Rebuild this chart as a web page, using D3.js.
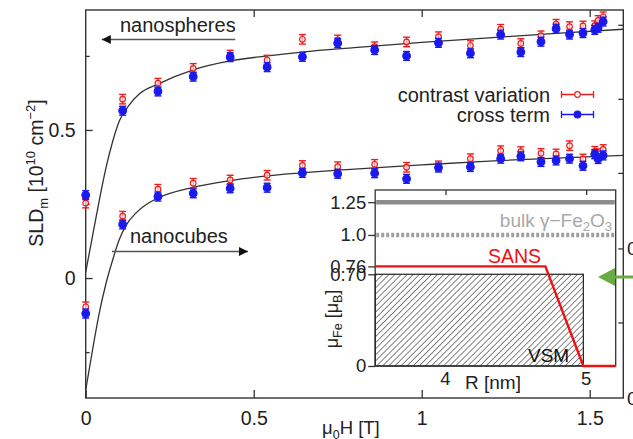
<!DOCTYPE html>
<html>
<head>
<meta charset="utf-8">
<script src="https://cdn.jsdelivr.net/npm/d3@7"></script>
<style>
body{margin:0;background:#fff;}
svg text{font-family:"Liberation Sans",Arial,sans-serif;}
.frame{fill:none;stroke:#333;stroke-width:1.4;}
.axis path{display:none;}
.axis line{stroke:#333;stroke-width:1.3;}
.axis text{fill:#222;}
</style>
</head>
<body>
<svg id="chart" width="633" height="439"></svg>
<script>
// field values (T), shared by all four series
var fields=[0,0.11,0.215,0.32,0.43,0.54,0.645,0.75,0.86,0.955,1.05,1.145,1.235,1.295,1.355,1.40,1.44,1.48,1.515,1.525,1.54];
var sphereContrast=[0.253,0.604,0.658,0.708,0.753,0.736,0.806,0.804,0.781,0.797,0.815,0.785,0.840,0.792,0.818,0.857,0.849,0.851,0.852,0.870,0.882];
var sphereCross=[0.280,0.565,0.630,0.680,0.746,0.712,0.747,0.793,0.770,0.750,0.794,0.759,0.822,0.763,0.798,0.842,0.822,0.827,0.838,0.845,0.866];
var cubeContrast=[-0.097,0.209,0.300,0.320,0.331,0.347,0.380,0.376,0.384,0.374,0.379,0.403,0.430,0.427,0.421,0.419,0.447,0.402,0.428,0.420,0.434];
var cubeCross=[-0.120,0.181,0.275,0.286,0.303,0.305,0.355,0.352,0.354,0.335,0.373,0.375,0.403,0.411,0.392,0.397,0.403,0.379,0.418,0.402,0.414];
var errContrast=0.016;
var errCross=0.015;
// fitted curves
var sphereFitX=[0,0.02,0.04,0.06,0.08,0.10,0.13,0.16,0.215,0.32,0.43,0.54,0.645,0.80,1.0,1.2,1.4,1.6];
var sphereFitY=[0.02,0.14,0.26,0.37,0.46,0.53,0.585,0.622,0.655,0.703,0.733,0.750,0.763,0.778,0.796,0.811,0.826,0.840];
var cubeFitX=[0,0.02,0.04,0.06,0.08,0.10,0.12,0.15,0.18,0.215,0.32,0.43,0.54,0.80,1.0,1.2,1.4,1.6];
var cubeFitY=[-0.378,-0.245,-0.12,-0.02,0.06,0.13,0.178,0.22,0.248,0.27,0.306,0.329,0.345,0.368,0.382,0.395,0.405,0.414];
var xTicks=[0,0.5,1,1.5];
var xTickLabels=["0","0.5","1","1.5"];
var yTicks=[0,0.5];
var yMinorTicks=[-0.25,0.25,0.75];
var rightTicks=[0.855,0.605,0.355,0.10,-0.15];
var legendNames=["contrast variation","cross term"];
// inset
var insetYTicks=[1.25,1.0,0.76,0.70,0];
var insetYLabels=["1.25","1.0","0.76","0.70","0"];
var insetXTicks=[4,5];
var bulkLevels=[1.25,1.0];
var vsmR=[3.5,4.98];
var vsmMu=0.70;
var sansR=[3.5,4.71,4.98,5.21];
var sansMu=[0.76,0.76,0,0];

var svg=d3.select("#chart");
var x=d3.scaleLinear().domain([0,1.6]).range([85.7,623.3]);
var y=d3.scaleLinear().domain([-0.405,0.905]).range([398,10]);

svg.append("rect").attr("class","frame")
   .attr("x",x(0)).attr("y",y(0.905))
   .attr("width",x(1.6)-x(0)).attr("height",y(-0.405)-y(0.905));

// axes
svg.append("g").attr("class","axis")
   .attr("transform","translate(0,"+y(-0.405)+")")
   .call(d3.axisBottom(x).tickValues(xTicks).tickSize(-8).tickPadding(13)
           .tickFormat(function(d,i){return xTickLabels[i];}))
   .selectAll("text").style("font-size","19.5px");
svg.append("g").attr("class","axis")
   .attr("transform","translate(0,"+y(0.905)+")")
   .call(d3.axisTop(x).tickValues(xTicks.slice(1)).tickSize(-7).tickFormat(""));
svg.append("g").attr("class","axis")
   .attr("transform","translate("+x(0)+",0)")
   .call(d3.axisLeft(y).tickValues(yTicks).tickSize(-7).tickPadding(10)
           .tickFormat(d3.format("")))
   .selectAll("text").style("font-size","19.5px");
svg.append("g").attr("class","axis")
   .attr("transform","translate("+x(0)+",0)")
   .call(d3.axisLeft(y).tickValues(yMinorTicks).tickSize(-4).tickFormat(""));
svg.append("g").attr("class","axis")
   .attr("transform","translate("+x(1.6)+",0)")
   .call(d3.axisRight(y).tickValues(rightTicks).tickSize(-5).tickFormat(""));
// cut-off labels of the neighbouring panel
svg.selectAll(".edge").data([0.10,-0.405]).enter().append("text")
   .attr("x",627).attr("y",function(d){return y(d);}).attr("dy","0.35em")
   .style("font-size","19px").attr("fill","#222").text("0");

// axis titles
var yl=svg.append("text").attr("transform","translate(43,173) rotate(-90)")
   .attr("text-anchor","middle").style("font-size","19.5px").attr("fill","#222");
yl.append("tspan").text("SLD");
yl.append("tspan").attr("dy",5).style("font-size","13px").text("m");
yl.append("tspan").attr("dy",-5).text(" [10");
yl.append("tspan").attr("dy",-8).style("font-size","13px").text("10");
yl.append("tspan").attr("dy",8).text(" cm");
yl.append("tspan").attr("dy",-8).style("font-size","13px").text("\u22122");
yl.append("tspan").attr("dy",8).text("]");
var xl=svg.append("text").attr("x",322).attr("y",434).style("font-size","18.5px").attr("fill","#222");
xl.append("tspan").text("\u03bc");
xl.append("tspan").attr("dy",5).style("font-size","12.5px").text("0");
xl.append("tspan").attr("dy",-5).text("H [T]");

// fits
var fitLine=d3.line().curve(d3.curveMonotoneX)
   .x(function(d){return x(d[0]);}).y(function(d){return y(d[1]);});
[[sphereFitX,sphereFitY],[cubeFitX,cubeFitY]].forEach(function(f){
  svg.append("path").datum(d3.zip(f[0],f[1])).attr("d",fitLine)
     .attr("fill","none").attr("stroke","#333").attr("stroke-width",1.3);
});

// points with error bars
function drawSeries(vals,err,color,filled){
  var g=svg.append("g");
  var pts=d3.zip(fields,vals);
  var e=g.selectAll("g").data(pts).enter().append("g");
  e.append("line").attr("x1",function(d){return x(d[0]);}).attr("x2",function(d){return x(d[0]);})
   .attr("y1",function(d){return y(d[1]-err);}).attr("y2",function(d){return y(d[1]+err);})
   .attr("stroke",color).attr("stroke-width",1.4);
  [-1,1].forEach(function(s){
    e.append("line").attr("x1",function(d){return x(d[0])-3.5;}).attr("x2",function(d){return x(d[0])+3.5;})
     .attr("y1",function(d){return y(d[1]+s*err);}).attr("y2",function(d){return y(d[1]+s*err);})
     .attr("stroke",color).attr("stroke-width",1.4);
  });
  e.append("circle").attr("cx",function(d){return x(d[0]);}).attr("cy",function(d){return y(d[1]);})
   .attr("r",filled?3.8:2.8)
   .attr("fill",filled?color:"#fff").attr("fill-opacity",filled?1:0.6)
   .attr("stroke",color).attr("stroke-width",1.2);
}
drawSeries(sphereContrast,errContrast,"#ee1c1c",false);
drawSeries(cubeContrast,errContrast,"#ee1c1c",false);
drawSeries(sphereCross,errCross,"#1a1aee",true);
drawSeries(cubeCross,errCross,"#1a1aee",true);

// legend
var legColors=["#ee1c1c","#1a1aee"];
legendNames.forEach(function(n,i){
  var ly=94.5+i*20;
  svg.append("text").attr("x",550).attr("y",ly).attr("dy","0.35em").attr("text-anchor","end")
     .style("font-size","20px").attr("fill","#222").text(n);
  svg.append("line").attr("x1",561.5).attr("x2",593.5).attr("y1",ly).attr("y2",ly)
     .attr("stroke",legColors[i]).attr("stroke-width",1.3);
  [561.5,593.5].forEach(function(cx){
    svg.append("line").attr("x1",cx).attr("x2",cx).attr("y1",ly-3.5).attr("y2",ly+3.5)
       .attr("stroke",legColors[i]).attr("stroke-width",1.3);
  });
  svg.append("circle").attr("cx",577.5).attr("cy",ly).attr("r",i?3.3:2.8)
     .attr("fill",i?legColors[i]:"#fff").attr("stroke",legColors[i]).attr("stroke-width",1.2);
});

// annotations
var defs=svg.append("defs");
defs.append("marker").attr("id","head").attr("viewBox","0 0 10 10").attr("refX",10).attr("refY",5)
    .attr("markerWidth",16).attr("markerHeight",9).attr("markerUnits","userSpaceOnUse").attr("orient","auto")
    .append("path").attr("d","M0,0L10,5L0,10Z").attr("fill","#111");
svg.append("text").attr("x",120).attr("y",32).style("font-size","20px").attr("fill","#222").text("nanospheres");
svg.append("line").attr("x1",x(0.445)).attr("x2",x(0.048)).attr("y1",39.5).attr("y2",39.5)
   .attr("stroke","#555").attr("stroke-width",1.3).attr("marker-end","url(#head)");
svg.append("text").attr("x",130).attr("y",243).style("font-size","20px").attr("fill","#222").text("nanocubes");
svg.append("line").attr("x1",x(0.078)).attr("x2",x(0.483)).attr("y1",251.5).attr("y2",251.5)
   .attr("stroke","#555").attr("stroke-width",1.3).attr("marker-end","url(#head)");

// inset
var ix=d3.scaleLinear().domain([3.5,5.21]).range([375.2,615.7]);
var iy=d3.scaleLinear().domain([0,1.343]).range([366,190]);
var inset=svg.append("g");
inset.append("rect").attr("x",ix(3.5)).attr("y",iy(1.343)).attr("width",ix(5.21)-ix(3.5))
     .attr("height",iy(0)-iy(1.343)).attr("fill","#fff").attr("stroke","#333").attr("stroke-width",1.3);
var pat=defs.append("pattern").attr("id","hatch").attr("patternUnits","userSpaceOnUse")
   .attr("width",4.3).attr("height",4.3).attr("patternTransform","rotate(45)");
pat.append("line").attr("x1",0).attr("x2",0).attr("y1",0).attr("y2",4.3)
   .attr("stroke","#333").attr("stroke-width",1.2);
inset.append("rect").attr("x",ix(vsmR[0])).attr("y",iy(vsmMu)).attr("width",ix(vsmR[1])-ix(vsmR[0]))
     .attr("height",iy(0)-iy(vsmMu)).attr("fill","url(#hatch)").attr("stroke","#222").attr("stroke-width",1.2);
inset.selectAll(".bulk").data(bulkLevels).enter().append("line")
     .attr("x1",ix(3.5)+1).attr("x2",ix(5.21)-1).attr("y1",function(d){return iy(d);}).attr("y2",function(d){return iy(d);})
     .attr("stroke",function(d,i){return i?"#a0a0a0":"#8c8c8c";}).attr("stroke-width",4.5)
     .attr("stroke-dasharray",function(d,i){return i?"3,2":null;});
inset.append("path").datum(d3.zip(sansR,sansMu))
     .attr("d",d3.line().x(function(d){return ix(d[0]);}).y(function(d){return iy(d[1]);}))
     .attr("fill","none").attr("stroke","#ee1111").attr("stroke-width",2.4);
inset.append("g").attr("class","axis").attr("transform","translate("+ix(3.5)+",0)")
     .call(d3.axisLeft(iy).tickValues(insetYTicks).tickSize(7).tickPadding(2)
             .tickFormat(function(d,i){return insetYLabels[i];}))
     .selectAll("text").style("font-size","18.5px");
inset.append("g").attr("class","axis").attr("transform","translate(0,"+iy(1.343)+")")
     .call(d3.axisTop(ix).tickValues(insetXTicks).tickSize(-5).tickFormat(""));
insetXTicks.forEach(function(t){
  inset.append("text").attr("x",ix(t)).attr("y",385).attr("text-anchor","middle")
       .style("font-size","18.5px").attr("fill","#222").text(t);
});
inset.append("text").attr("x",465).attr("y",389).style("font-size","19px").attr("fill","#222").text("R [nm]");
var il=inset.append("text").attr("transform","translate(338,319) rotate(-90)").attr("text-anchor","middle")
     .style("font-size","18px").attr("fill","#222");
il.append("tspan").text("\u03bc");
il.append("tspan").attr("dy",4).style("font-size","12.5px").text("Fe");
il.append("tspan").attr("dy",-4).text(" [\u03bc");
il.append("tspan").attr("dy",4).style("font-size","12.5px").text("B");
il.append("tspan").attr("dy",-4).text("]");
var bt=inset.append("text").attr("x",612).attr("y",227).attr("text-anchor","end")
     .style("font-size","19px").attr("fill","#a8a8a8");
bt.append("tspan").text("bulk \u03b3\u2212Fe");
bt.append("tspan").attr("dy",4).style("font-size","13px").text("2");
bt.append("tspan").attr("dy",-4).text("O");
bt.append("tspan").attr("dy",4).style("font-size","13px").text("3");
inset.append("text").attr("x",488).attr("y",263).style("font-size","19.5px").attr("fill","#ee1111").text("SANS");
inset.append("text").attr("x",528).attr("y",362).style("font-size","19px").attr("fill","#111").text("VSM");

// green pointer
svg.append("line").attr("x1",640).attr("x2",612).attr("y1",277).attr("y2",277)
   .attr("stroke","#6aaa45").attr("stroke-width",3);
svg.append("path").attr("d","M598,277L615,268L615,286Z").attr("fill","#6aaa45");
</script>
</body>
</html>
